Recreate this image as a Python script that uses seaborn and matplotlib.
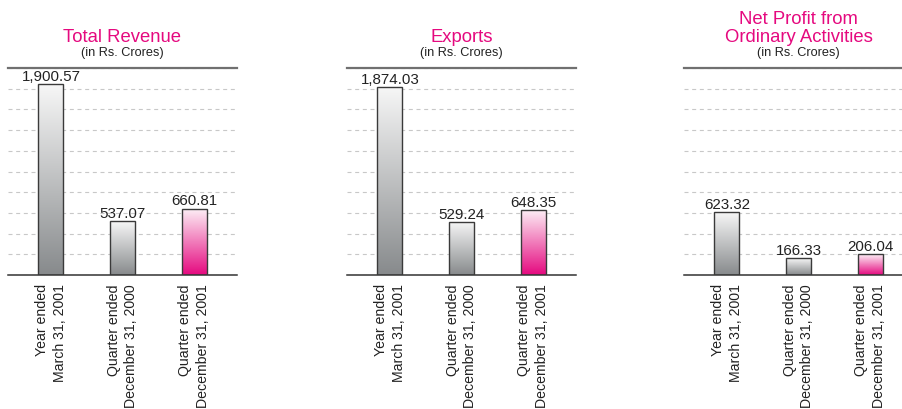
import numpy as np
import matplotlib
matplotlib.use("Agg")
import matplotlib.pyplot as plt
import matplotlib.transforms as mtransforms
from matplotlib.colors import to_rgb
import seaborn as sns
import pandas as pd

# ---- data ----
categories = ["Year ended\nMarch 31, 2001",
              "Quarter ended\nDecember 31, 2000",
              "Quarter ended\nDecember 31, 2001"]
revenue = [1900.57, 537.07, 660.81]
exports = [1874.03, 529.24, 648.35]
net_profit = [623.32, 166.33, 206.04]
panel_titles = [["Total Revenue"], ["Exports"], ["Net Profit from", "Ordinary Activities"]]
subtitle = "(in Rs. Crores)"

# ---- style ----
sns.set_style("white")
plt.rcParams["font.family"] = ["Liberation Sans", "DejaVu Sans"]

MAGENTA = "#e5097f"
GRAY_BOTTOM = "#878a8c"
GRAY_TOP = "#f7f7f7"
PINK_TOP = "#fdf1f7"
bar_bottoms = [GRAY_BOTTOM, GRAY_BOTTOM, MAGENTA]
bar_tops = [GRAY_TOP, GRAY_TOP, PINK_TOP]

W, H = 903, 410
fig = plt.figure(figsize=(W / 100, H / 100), dpi=100)

lefts_px = [8, 347, 684]
width_px = 229
top_px, base_px = 69, 276
ymax = 2060

series = [revenue, exports, net_profit]

for i, (vals, titles) in enumerate(zip(series, panel_titles)):
    ax = fig.add_axes([lefts_px[i] / W, (H - base_px) / H, width_px / W, (base_px - top_px) / H])
    df = pd.DataFrame({"cat": categories, "val": vals})
    sns.barplot(data=df, x="cat", y="val", hue="cat", palette=bar_bottoms,
                width=0.35, legend=False, ax=ax, saturation=1)
    ax.set_xlabel("")
    ax.set_ylabel("")

    # gradient fill for each bar
    for j, p in enumerate(ax.patches):
        x0, w, h = p.get_x(), p.get_width(), p.get_height()
        c_top = np.array(to_rgb(bar_tops[j]))
        c_bot = np.array(to_rgb(bar_bottoms[j]))
        t = np.linspace(0, 1, 256).reshape(-1, 1, 1)
        arr = c_top * (1 - t) + c_bot * t
        arr = np.repeat(arr, 2, axis=1)
        im = ax.imshow(arr, extent=[x0, x0 + w, 0, h], aspect="auto",
                       origin="upper", zorder=2, interpolation="bilinear")
        im.set_clip_path(p)
        p.set_facecolor("none")
        p.set_edgecolor("#3a3a3a")
        p.set_linewidth(1.0)
        p.set_zorder(3)
        ax.annotate(f"{vals[j]:,.2f}", (x0 + w / 2, h), xytext=(0, 3),
                    textcoords="offset points", ha="center", va="baseline",
                    fontsize=10.9, color="#222222", zorder=4)

    ax.set_xlim(-0.6, 2.6)
    ax.set_ylim(0, ymax)
    ax.set_yticks(np.linspace(0, ymax, 11))
    ax.set_yticklabels([])
    ax.set_axisbelow(True)
    ax.grid(axis="y", color="#c8c8c8", linewidth=0.8, linestyle=(0, (3.6, 3.3)))
    ax.grid(axis="x", visible=False)
    for s in ["left", "right"]:
        ax.spines[s].set_visible(False)
    ax.spines["top"].set_color("#707070")
    ax.spines["top"].set_linewidth(1.6)
    ax.spines["bottom"].set_color("#333333")
    ax.spines["bottom"].set_linewidth(1.1)

    ax.set_xticks(range(len(categories)))
    ax.set_xticklabels(categories, rotation=90, va="top", ha="center",
                       multialignment="right", fontsize=10.2, color="#222222",
                       linespacing=1.35)
    ax.tick_params(axis="x", length=0, pad=6)
    ax.tick_params(axis="y", length=0)

    trans = mtransforms.blended_transform_factory(ax.transAxes, fig.transFigure)
    if len(titles) == 1:
        ax.text(0.5, (H - 42) / H, titles[0], transform=trans, ha="center",
                va="baseline", fontsize=13.3, color=MAGENTA)
    else:
        ax.text(0.5, (H - 24) / H, titles[0], transform=trans, ha="center",
                va="baseline", fontsize=13.3, color=MAGENTA)
        ax.text(0.5, (H - 42) / H, titles[1], transform=trans, ha="center",
                va="baseline", fontsize=13.3, color=MAGENTA)
    ax.text(0.5, (H - 56) / H, subtitle, transform=trans, ha="center",
            va="baseline", fontsize=9.2, color="#222222")

fig.savefig("out.png", dpi=100)
